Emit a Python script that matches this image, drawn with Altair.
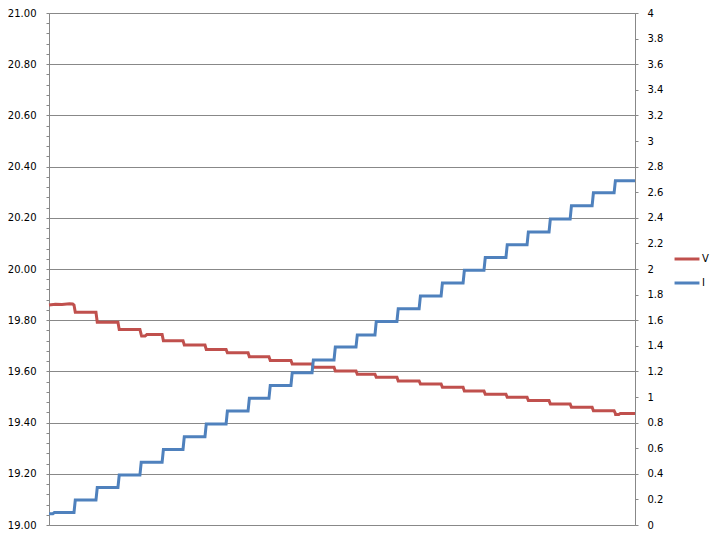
import altair as alt
import pandas as pd
import numpy as np

# sample index at which each level begins (last entry = end of record)
step_starts = [0, 11.6, 21.8, 32.0, 42.2, 52.5, 62.2, 72.4, 82.2, 92.4, 102.1, 112.3,
               122.1, 132.3, 142.5, 151.3, 161.5, 171.8, 182.0, 192.2, 201.9, 212.1,
               221.9, 232.1, 241.9, 252.1, 262.3, 272.0]

# current (A) on each plateau
i_levels = [0.097, 0.195, 0.293, 0.39, 0.49, 0.59, 0.69, 0.79, 0.89, 0.99, 1.09, 1.19,
            1.29, 1.39, 1.485, 1.59, 1.69, 1.79, 1.89, 1.99, 2.09, 2.19, 2.29, 2.39,
            2.495, 2.595, 2.69]

# voltage (V) on each plateau
v_levels = [19.859, 19.831, 19.792, 19.764, 19.744, 19.720, 19.703, 19.686, 19.673,
            19.657, 19.643, 19.629, 19.616, 19.602, 19.589, 19.577, 19.5625, 19.551,
            19.538, 19.523, 19.511, 19.499, 19.486, 19.473, 19.460, 19.446, 19.436]

# extra readings (noise / blips) : (sample, value)
i_extra = [(0.0, 0.088), (1.8, 0.088), (2.5, 0.097)]
v_extra = [(3.0, 19.862), (6.0, 19.861), (9.5, 19.864), (11.0, 19.863),
           (43.0, 19.738), (44.6, 19.738), (45.4, 19.744),
           (263.0, 19.432), (264.5, 19.432), (265.2, 19.436)]

series_names = ["V", "I"]
series_colors = ["#C0504D", "#4F81BD"]

left_major = [19.0, 19.2, 19.4, 19.6, 19.8, 20.0, 20.2, 20.4, 20.6, 20.8, 21.0]
left_minor = np.round(np.arange(19.0, 21.0001, 0.04), 2).tolist()
right_ticks = np.round(np.arange(0, 4.0001, 0.2), 1).tolist()


def staircase(levels, extra, name):
    pts = []
    for k, lv in enumerate(levels):
        s0 = step_starts[k] + (0.6 if k > 0 else 0.0)
        s1 = step_starts[k + 1]
        pts.append((s0, lv))
        pts.append((s1, lv))
    if extra and extra[0][0] == 0.0:
        pts = [p for p in pts if p[0] != 0.0]
    pts += extra
    pts.sort(key=lambda p: p[0])
    return pd.DataFrame({"sample": [p[0] for p in pts],
                         "value": [p[1] for p in pts],
                         "series": name})


df_v = staircase(v_levels, v_extra, "V")
df_i = staircase(i_levels, i_extra, "I")

FONT = "DejaVu Sans"
GRAY = "#888888"

color = alt.Color(
    "series:N",
    scale=alt.Scale(domain=series_names, range=series_colors),
    legend=alt.Legend(
        title=None, orient="none", legendX=632, legendY=240,
        symbolType="M-3,0H3", symbolSize=69, symbolStrokeWidth=3,
        labelOffset=9, rowPadding=12, padding=0,
        labelFont=FONT, labelFontSize=10, labelColor="#000000",
    ),
)

x = alt.X("sample:Q", scale=alt.Scale(domain=[0, 272], nice=False, zero=False), axis=None)

major_test = "abs(datum.value*5 - round(datum.value*5)) < 0.001"

v_line = alt.Chart(df_v).mark_line(strokeWidth=3, interpolate="linear").encode(
    x=x,
    y=alt.Y("value:Q", scale=alt.Scale(domain=[19, 21], nice=False, zero=False),
            axis=alt.Axis(
                orient="left", values=left_minor, title=None, domain=False,
                grid=True, gridColor=GRAY,
                gridOpacity={"condition": {"test": major_test, "value": 1}, "value": 0},
                labelExpr=f"{major_test} ? format(datum.value, '.2f') : ''",
                labelOverlap=False, tickSize=3, tickColor=GRAY, labelPadding=10,
                labelFont=FONT, labelFontSize=10, labelColor="#000000",
            )),
    color=color,
)

i_line = alt.Chart(df_i).mark_line(strokeWidth=3, interpolate="linear").encode(
    x=x,
    y=alt.Y("value:Q", scale=alt.Scale(domain=[0, 4], nice=False, zero=False),
            axis=alt.Axis(
                orient="right", values=right_ticks, title=None, domain=False,
                grid=False, format="~g", labelOverlap=False,
                tickSize=3, tickColor=GRAY, labelPadding=9,
                labelFont=FONT, labelFontSize=10, labelColor="#000000",
            )),
    color=color,
)

chart = alt.layer(v_line, i_line).resolve_scale(y="independent").properties(
    width=586, height=512,
    autosize=alt.AutoSizeParams(type="none"),
    padding={"left": 41, "top": 5, "right": 77, "bottom": 6},
    background="white",
).configure_view(stroke=GRAY, strokeWidth=1)

chart.save("out.html", embed_options={"renderer": "svg", "actions": False})
